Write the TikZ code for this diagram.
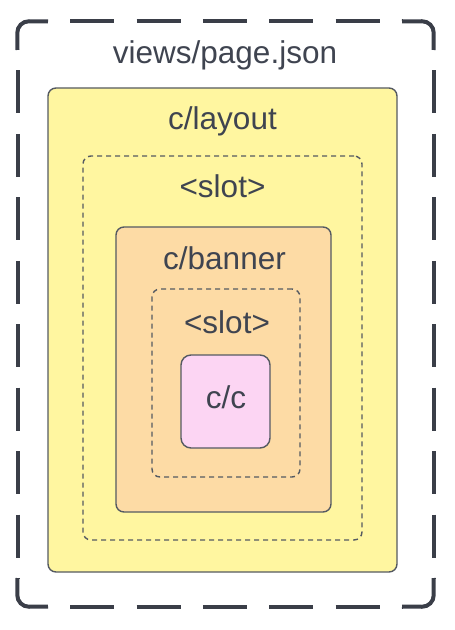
\documentclass[tikz,border=0pt]{standalone}
\usepackage{fontspec}
\setmainfont{Liberation Sans}
\usetikzlibrary{positioning}
\definecolor{inkgray}{HTML}{3F4450}
\definecolor{framegray}{HTML}{3A3E48}
\definecolor{edgegray}{HTML}{555A62}
\definecolor{layoutfill}{HTML}{FFF6A0}
\definecolor{bannerfill}{HTML}{FDDBA5}
\definecolor{leaffill}{HTML}{FCD5F3}

\begin{document}
\begin{tikzpicture}[
     x=0.5pt, y=-0.5pt,
        txt/.style = {anchor=base, inner sep=0pt, text=inkgray,
                      font=\fontsize{15.75}{18}\selectfont},
      frame/.style = {draw=framegray, line width=2pt},
     frameh/.style = {frame, dash pattern=on 22pt off 11.15pt, dash phase=22pt},
     framev/.style = {frame, dash pattern=on 21.5pt off 10.22pt, dash phase=21.5pt},
       comp/.style = {rectangle, draw=edgegray, line width=0.7pt, rounded corners=4pt},
       slot/.style = {rectangle, draw=edgegray, line width=0.7pt, rounded corners=4pt,
                      dash pattern=on 2.5pt off 2pt}
                        ]
\useasboundingbox (0,0) rectangle (454,630);
% dashed page frame: solid corners, dashed sides
\node (page) [rectangle, minimum width=208pt, minimum height=292.5pt] at (225.5,314) {};
\draw[frame, rounded corners=6pt] (48,21.5) -- (page.north west) -- (17.5,50);
\draw[frame, rounded corners=6pt] (402,21.5) -- (page.north east) -- (433.5,50);
\draw[frame, rounded corners=6pt] (48,606.5) -- (page.south west) -- (17.5,578);
\draw[frame, rounded corners=6pt] (402,606.5) -- (page.south east) -- (433.5,578);
\draw[frameh] (48,21.5) -- (402,21.5);
\draw[frameh] (48,606.5) -- (402,606.5);
\draw[framev] (17.5,50) -- (17.5,578);
\draw[framev] (433.5,50) -- (433.5,578);
% boxes, outside in
\node (layout)  [comp, fill=layoutfill, minimum width=174.5pt, minimum height=242pt] at (222.5,330) {};
\node (slotA)   [slot, minimum width=139.5pt, minimum height=192pt] at (222.5,348) {};
\node (banner)  [comp, fill=bannerfill, minimum width=107.5pt, minimum height=142.5pt] at (223.5,369.5) {};
\node (slotB)   [slot, minimum width=74pt, minimum height=94pt] at (226,383) {};
\node (leaf)    [comp, fill=leaffill, rounded corners=5pt, minimum width=44.5pt, minimum height=46.5pt] at (225.5,401.5) {};
% titles
\node (pagetitle)   [txt] at (225,64)  {views/page.json};
\node (layouttitle) [txt] at (222.5,130) {c/layout};
\node (slotAtitle)  [txt] at (222.5,198) {<slot>};
\node (bannertitle) [txt] at (224.5,270) {c/banner};
\node (slotBtitle)  [txt] at (227,333) {<slot>};
\node (leaftitle)   [txt] at (226,408) {c/c};
\end{tikzpicture}
\end{document}
